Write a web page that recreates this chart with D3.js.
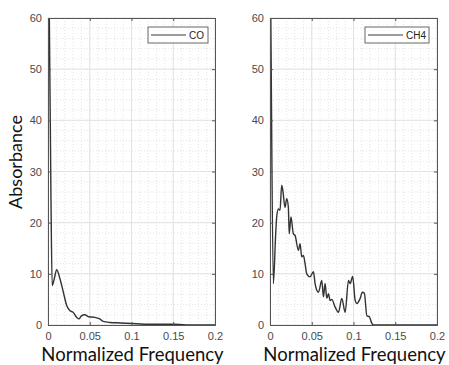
<!DOCTYPE html>
<html><head><meta charset="utf-8">
<script src="https://cdn.jsdelivr.net/npm/d3@7"></script>
<style>body{margin:0;background:#fff}svg{display:block}</style>
</head><body>
<script>
// CO spectrum (normalized frequency, absorbance)
const coFreq = [0, 0.0016, 0.0036, 0.005, 0.0075, 0.0104, 0.0144, 0.0184, 0.0224, 0.0263, 0.030, 0.0344, 0.037, 0.040, 0.044, 0.049, 0.056, 0.062, 0.066, 0.074, 0.087, 0.100, 0.120, 0.150, 0.165, 0.200];
const coAbs  = [80, 60, 24, 7.7, 9.0, 10.8, 9.0, 6.4, 3.8, 2.8, 2.5, 1.5, 1.2, 1.8, 2.0, 1.6, 1.5, 1.2, 0.7, 0.5, 0.4, 0.3, 0.15, 0.15, 0.02, 0];
// CH4 spectrum
const ch4Freq = [0, 0.001, 0.004, 0.0068, 0.008, 0.010, 0.012, 0.014, 0.0152, 0.018, 0.020, 0.022, 0.023, 0.0251, 0.028, 0.030, 0.034, 0.036, 0.038, 0.040, 0.042, 0.044, 0.048, 0.052, 0.054, 0.056, 0.058, 0.062, 0.064, 0.066, 0.068, 0.070, 0.072, 0.074, 0.078, 0.082, 0.086, 0.090, 0.094, 0.096, 0.099, 0.102, 0.104, 0.108, 0.1106, 0.113, 0.116, 0.119, 0.122, 0.124, 0.150, 0.200];
const ch4Abs  = [80, 60, 8.1, 17.8, 21.1, 22.7, 22.4, 27.3, 26.5, 23.0, 24.7, 23.0, 17.8, 21.1, 17.8, 17.5, 14.6, 15.9, 13.3, 13.6, 12.0, 10.0, 9.4, 10.4, 8.1, 6.8, 6.4, 8.7, 5.5, 8.1, 5.2, 6.1, 4.8, 5.0, 3.5, 2.5, 5.2, 2.5, 8.7, 8.1, 9.5, 4.8, 4.2, 5.2, 6.4, 6.2, 1.8, 1.6, 0.3, 0, 0, 0];
const xTicks = [0, 0.05, 0.1, 0.15, 0.2];
const xTickLabels = ["0", "0.05", "0.1", "0.15", "0.2"];
const yTicks = [0, 10, 20, 30, 40, 50, 60];
const xMinor = d3.range(0, 0.2001, 0.01);
const yMinor = d3.range(0, 60.01, 2);

const W = 449, H = 365;
const svg = d3.select("body").append("svg").attr("width", W).attr("height", H);

const panels = [
  {x0: 48, x1: 215, freq: coFreq, abs: coAbs, name: "CO", leg: [148, 208]},
  {x0: 270, x1: 437, freq: ch4Freq, abs: ch4Abs, name: "CH4", leg: [365, 429]}
];
const yTop = 18, yBot = 325;
const y = d3.scaleLinear().domain([0, 60]).range([yBot, yTop]);

panels.forEach((p, i) => {
  const x = d3.scaleLinear().domain([0, 0.2]).range([p.x0, p.x1]);
  const g = svg.append("g");
  // minor grid
  g.selectAll(".mx").data(xMinor).enter().append("line")
    .attr("x1", d => x(d)).attr("x2", d => x(d)).attr("y1", yTop).attr("y2", yBot)
    .attr("stroke", "#d8d8d8").attr("stroke-width", 0.7).attr("stroke-dasharray", "1,2");
  g.selectAll(".my").data(yMinor).enter().append("line")
    .attr("y1", d => y(d)).attr("y2", d => y(d)).attr("x1", p.x0).attr("x2", p.x1)
    .attr("stroke", "#d8d8d8").attr("stroke-width", 0.7).attr("stroke-dasharray", "1,2");
  // major grid
  g.selectAll(".gx").data(xTicks).enter().append("line")
    .attr("x1", d => x(d)).attr("x2", d => x(d)).attr("y1", yTop).attr("y2", yBot)
    .attr("stroke", "#e2e2e2").attr("stroke-width", 1);
  g.selectAll(".gy").data(yTicks).enter().append("line")
    .attr("y1", d => y(d)).attr("y2", d => y(d)).attr("x1", p.x0).attr("x2", p.x1)
    .attr("stroke", "#e2e2e2").attr("stroke-width", 1);

  // clip
  const cid = "clip" + i;
  svg.append("clipPath").attr("id", cid).append("rect")
    .attr("x", p.x0).attr("y", yTop).attr("width", p.x1 - p.x0).attr("height", yBot - yTop);
  const line = d3.line().x((d, k) => x(p.freq[k])).y(d => y(d)).curve(d3.curveMonotoneX);
  g.append("path").datum(p.abs).attr("d", line).attr("clip-path", `url(#${cid})`)
    .attr("fill", "none").attr("stroke", "#333").attr("stroke-width", 1.4);

  // axes (ticks inward)
  const ax = d3.axisBottom(x).tickValues(xTicks).tickFormat((d, k) => xTickLabels[k]).tickSize(-3).tickPadding(7);
  const axT = d3.axisTop(x).tickValues(xTicks).tickFormat("").tickSize(-3);
  const ay = d3.axisLeft(y).tickValues(yTicks).tickSize(-3).tickPadding(6);
  const ayR = d3.axisRight(y).tickValues(yTicks).tickFormat("").tickSize(-3);
  [[ax, `translate(0,${yBot})`], [axT, `translate(0,${yTop})`], [ay, `translate(${p.x0},0)`], [ayR, `translate(${p.x1},0)`]].forEach(([a, t]) => {
    const ga = g.append("g").attr("transform", t).call(a);
    ga.select(".domain").attr("stroke", "#555").attr("stroke-width", 1);
    ga.selectAll(".tick line").attr("stroke", "#555");
    ga.selectAll("text").attr("fill", "#4a4a4a").style("font-family", "Liberation Sans, Arial, sans-serif").style("font-size", "11px");
  });

  // legend
  const lg = g.append("g");
  lg.append("rect").attr("x", p.leg[0]).attr("y", 27).attr("width", p.leg[1] - p.leg[0]).attr("height", 16)
    .attr("fill", "#fff").attr("stroke", "#666").attr("stroke-width", 1);
  lg.append("line").attr("x1", p.leg[0] + 3).attr("x2", p.leg[0] + 38).attr("y1", 35).attr("y2", 35)
    .attr("stroke", "#3a3a3a").attr("stroke-width", 1.2);
  lg.append("text").attr("x", p.leg[0] + 41).attr("y", 38.5).text(p.name)
    .attr("fill", "#222").style("font-family", "Liberation Sans, Arial, sans-serif").style("font-size", "10px");

  // x label
  g.append("text").attr("x", (p.x0 + p.x1) / 2 + 1).attr("y", 361).attr("text-anchor", "middle")
    .text("Normalized Frequency").attr("fill", "#111")
    .style("font-family", "Lato, sans-serif").style("font-size", "18.5px");
});

svg.append("text").attr("transform", "translate(22,162) rotate(-90)").attr("text-anchor", "middle")
  .text("Absorbance").attr("fill", "#111")
  .style("font-family", "Lato, sans-serif").style("font-size", "18px");
</script>
</body></html>
